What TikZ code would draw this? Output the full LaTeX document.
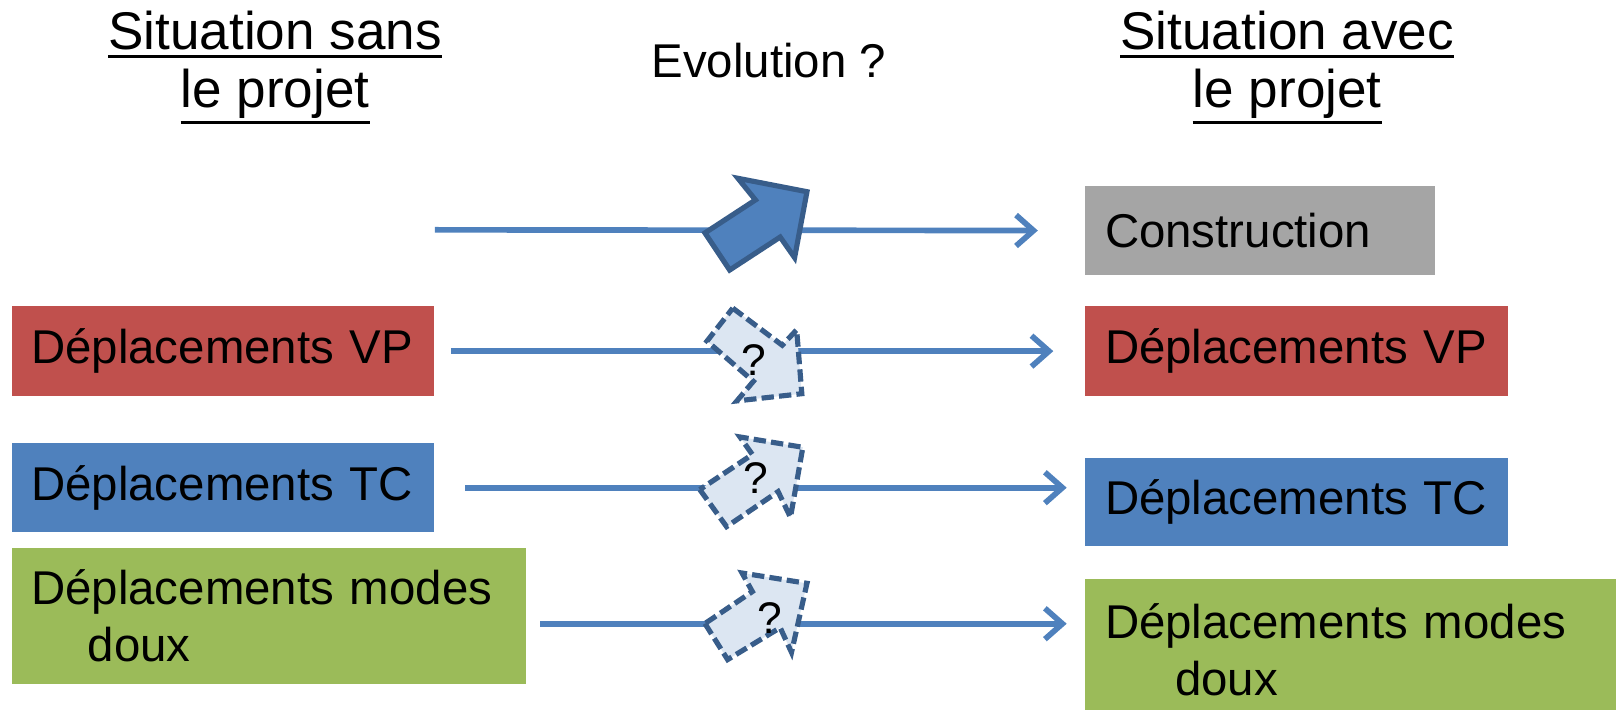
\documentclass[tikz,border=0pt]{standalone}
\usepackage{fontspec}
\setmainfont{Liberation Sans}
\usetikzlibrary{arrows.meta,calc}
\definecolor{cred}{HTML}{C0504D}
\definecolor{cblue}{HTML}{4F81BD}
\definecolor{cgreen}{HTML}{9BBB59}
\definecolor{cgray}{HTML}{A5A5A5}
\definecolor{cdark}{HTML}{385D8A}
\definecolor{clight}{HTML}{DCE6F2}
\begin{document}
\begin{tikzpicture}[x=1pt,y=-1pt,
  fnt/.style={font=\fontsize{46}{55}\selectfont},
  ttl/.style={font=\fontsize{51.5}{60}\selectfont, inner sep=0pt, anchor=base},
  box/.style={rectangle, inner xsep=19pt, inner ysep=0pt, anchor=north west, align=left, fnt},
  flow/.style={draw=cblue, line width=5.5pt, -{Straight Barb[length=17pt,width=30pt]}},
  bigarrow/.style={draw=cdark, fill=cblue, line width=5pt, line join=miter},
  qarrow/.style={draw=cdark, fill=clight, line width=5pt, dash pattern=on 12pt off 5pt},
  qmark/.style={font=\fontsize{43}{46}\selectfont, inner sep=0pt},
  uline/.style={line width=3pt}]
\useasboundingbox (0,0) rectangle (1568,688);
% titles
\node[ttl] (t1a) at (267,48) {Situation sans};
\node[ttl] (t1b) at (267,104) {le projet};
\node[ttl] (t2a) at (1249,48) {Situation avec};
\node[ttl] (t2b) at (1249,104) {le projet};
\node[fnt, inner sep=0pt, anchor=base] (evo) at (746,75) {Evolution ?};
\draw[uline] ($(t1a.base west)+(0,6.5)$) -- ($(t1a.base east)+(0,6.5)$);
\draw[uline] ($(t1b.base west)+(0,15)$) -- ($(t1b.base east)+(0,15)$);
\draw[uline] ($(t2a.base west)+(0,6.5)$) -- ($(t2a.base east)+(0,6.5)$);
\draw[uline] ($(t2b.base west)+(0,15)$) -- ($(t2b.base east)+(0,15)$);
% boxes
\node[box, fill=cred, text width=372pt, minimum height=87pt] (vpL) at (11,297) {Déplacements VP};
\node[box, fill=cblue, text width=372pt, minimum height=86pt] (tcL) at (11,430) {Déplacements TC};
\node[box, fill=cgreen, text width=461pt, minimum height=131pt] (mdL) at (11,532) {Déplacements modes\\\hspace*{55pt}doux};
\node[box, fill=cgray, text width=301pt, minimum height=87pt] (con) at (1053,180) {Construction};
\node[box, fill=cred, text width=372pt, minimum height=87pt] (vpR) at (1053,297) {Déplacements VP};
\node[box, fill=cblue, text width=372pt, minimum height=86pt] (tcR) at (1053,444) {Déplacements TC};
\node[box, fill=cgreen, text width=500pt, minimum height=136pt] (mdR) at (1053,562) {Déplacements modes\\\hspace*{68pt}doux};
% flows
\coordinate (s1) at (422,223);
\draw[flow] (s1) -- ($(con.west)+(-46,0)$);
\draw[flow] ($(vpL.east)+(16,0)$) -- ($(vpR.west)+(-31,0)$);
\draw[flow] ($(tcL.east)+(30,0)$) -- ($(tcR.west |- tcL.east)+(-18,0)$);
\draw[flow] ($(mdL.east)+(14,7.5)$) -- ($(mdR.west |- mdL.east)+(-18,7.5)$);
% block arrows
\draw[bigarrow] (684,226) -- (733,194) -- (716,173) -- (783,186) -- (771,250) -- (757,230) -- (708,262) -- cycle;
\draw[qarrow] (711,299) -- (759,335) -- (773,320) -- (778,382) -- (715,389) -- (731,370) -- (686,331) -- cycle;
\node[qmark] (q2) at (731,349) {?};
\draw[qarrow] (679,475) -- (705,511) -- (755,477) -- (767,502) -- (779,434) -- (718,424) -- (730,441) -- cycle;
\node[qmark] (q3) at (733,464) {?};
\draw[qarrow] (684,605) -- (706,640) -- (757,609) -- (768,633) -- (783,566) -- (720,556) -- (730,574) -- cycle;
\node[qmark] (q4) at (747,600) {?};
\end{tikzpicture}
\end{document}
